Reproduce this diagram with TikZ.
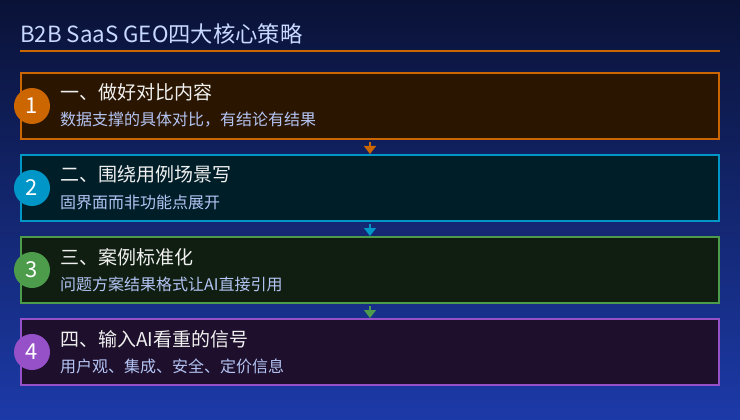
\documentclass[tikz,border=0pt]{standalone}
\usepackage{fontspec}
\setmainfont{Noto Sans CJK SC}
\usepackage{tikz}
\usetikzlibrary{arrows.meta, positioning}
\tikzset{>={Triangle[width=12pt,length=8pt]}}

\definecolor{bgtop}{HTML}{0A1236}
\definecolor{bgbot}{HTML}{1C3AA8}
\definecolor{titlecol}{HTML}{C8D8FF}
\definecolor{subcol}{HTML}{B4C4F4}
\definecolor{orgline}{HTML}{CC6600}
\definecolor{orgfill}{HTML}{2A1600}
\definecolor{cyaline}{HTML}{0096C8}
\definecolor{cyafill}{HTML}{001E28}
\definecolor{grnline}{HTML}{4C9C4C}
\definecolor{grnfill}{HTML}{0F1E10}
\definecolor{purline}{HTML}{9650C8}
\definecolor{purfill}{HTML}{1E102C}

\begin{document}
\begin{tikzpicture}[x=1pt,y=-1pt,
        stratbox/.style={draw, line width=2pt, minimum width=698pt, minimum height=66pt, inner sep=0pt},
        numdot/.style={circle, minimum size=36pt, inner sep=0pt, text=white, font=\fontsize{22}{22}\selectfont},
        headtxt/.style={anchor=base west, inner sep=0pt, text=white!94!black, font=\fontsize{19}{19}\selectfont},
        subtxt/.style={anchor=base west, inner sep=0pt, text=subcol, font=\fontsize{16}{16}\selectfont},
        flow/.style={->, line width=1.5pt}]
        \useasboundingbox (0,0) rectangle (740,420);
        \shade[top color=bgtop, bottom color=bgbot] (0,0) rectangle (740,420);
        
        \node[anchor=base west, inner sep=0pt, text=titlecol, font=\fontsize{22.3}{22.3}\selectfont] (title) at (20,43) {B2B SaaS GEO四大核心策略};
        
        \node[stratbox, draw=orgline, fill=orgfill] (box1) at (370,106) {};
        \node[stratbox, draw=cyaline, fill=cyafill] (box2) at (370,188) {};
        \node[stratbox, draw=grnline, fill=grnfill] (box3) at (370,270) {};
        \node[stratbox, draw=purline, fill=purfill] (box4) at (370,352) {};
        
        \coordinate (rulel) at (20,51);
        \coordinate (ruler) at (720,51);
        \draw [orgline, line width=2pt] (rulel)--(ruler);
        
        \node[numdot, fill=orgline] (num1) at (32,106) {1};
        \node[numdot, fill=cyaline] (num2) at (32,188) {2};
        \node[numdot, fill=grnline] (num3) at (32,270) {3};
        \node[numdot, fill=purline] (num4) at (32,352) {4};
        
        \node[headtxt] (head1) at (60,100) {一、做好对比内容};
        \node[subtxt] (sub1) at (60,126) {数据支撑的具体对比，有结论有结果};
        \node[headtxt] (head2) at (60,182) {二、围绕用例场景写};
        \node[subtxt] (sub2) at (60,208) {固界面而非功能点展开};
        \node[headtxt] (head3) at (60,264) {三、案例标准化};
        \node[subtxt] (sub3) at (60,290) {问题方案结果格式让AI直接引用};
        \node[headtxt] (head4) at (60,346) {四、输入AI看重的信号};
        \node[subtxt] (sub4) at (60,372) {用户观、集成、安全、定价信息};
        
        \draw [flow, orgline, shorten <=2pt] (box1.south)--(box2.north);
        \draw [flow, cyaline, shorten <=2pt] (box2.south)--(box3.north);
        \draw [flow, grnline, shorten <=2pt] (box3.south)--(box4.north);
        
        \end{tikzpicture}
\end{document}
